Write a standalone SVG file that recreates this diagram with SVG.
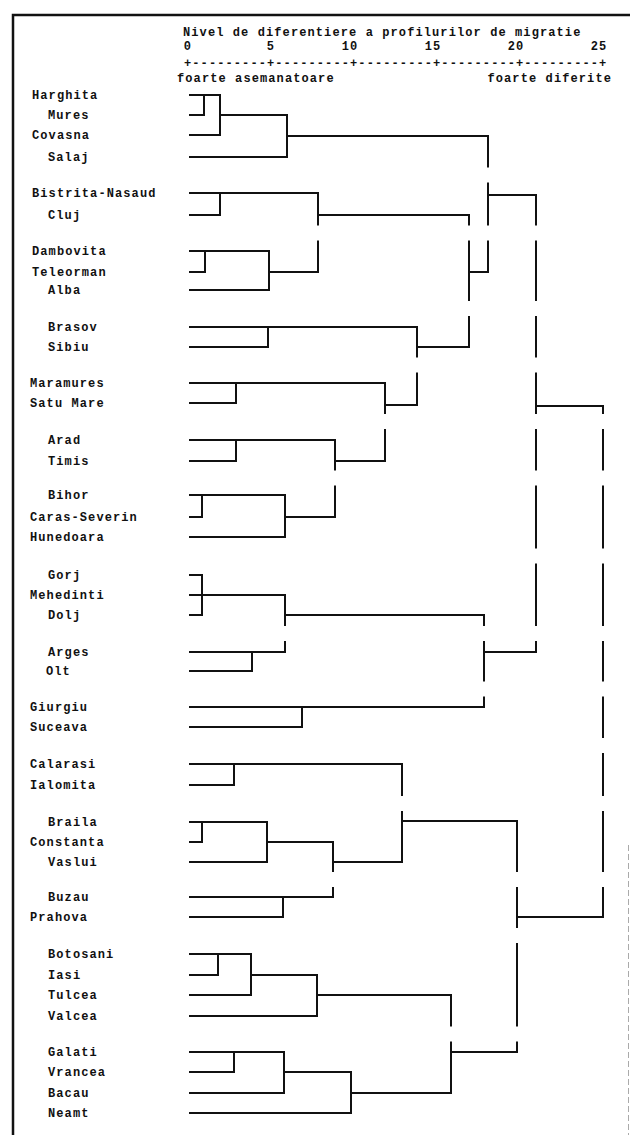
<svg xmlns="http://www.w3.org/2000/svg" width="630" height="1135" viewBox="0 0 630 1135">
<style>
text{font-family:"Liberation Mono","DejaVu Sans Mono",monospace;font-size:12px;font-weight:bold;letter-spacing:1.1px;fill:#111}
.c path{fill:none;stroke:#111;stroke-width:2;stroke-linecap:square}
.frame{fill:none;stroke:#111;stroke-width:2.5}
</style>
<defs>
<mask id="gaps" maskUnits="userSpaceOnUse" x="0" y="0" width="630" height="1135">
<rect x="0" y="0" width="630" height="1135" fill="#fff"/>
<g fill="#000">
<rect x="0" y="167.5" width="630" height="15"/>
<rect x="0" y="225.5" width="630" height="15"/>
<rect x="0" y="301" width="630" height="15"/>
<rect x="0" y="357.5" width="630" height="15"/>
<rect x="0" y="414" width="630" height="15"/>
<rect x="0" y="470.5" width="630" height="15"/>
<rect x="0" y="548.5" width="630" height="15"/>
<rect x="0" y="626" width="630" height="15"/>
<rect x="0" y="681.5" width="630" height="15"/>
<rect x="0" y="738" width="630" height="15"/>
<rect x="0" y="796" width="630" height="15"/>
<rect x="0" y="872" width="630" height="15"/>
<rect x="0" y="928" width="630" height="15"/>
<rect x="0" y="1026.5" width="630" height="15"/>
</g>
</mask>
</defs>
<rect width="630" height="1135" fill="#fff"/>
<g id="frame">
<path class="frame" d="M13,1135 V15 H630"/>
<path d="M628.5,845 V1135" stroke="#aaa" stroke-width="1" stroke-dasharray="6,3" fill="none"/>
</g>
<g id="axis">
<text x="183" y="36">Nivel de diferentiere a profilurilor de migratie</text>
<text x="188" y="50" text-anchor="middle">0</text>
<text x="271" y="50" text-anchor="middle">5</text>
<text x="350" y="50" text-anchor="middle">10</text>
<text x="433" y="50" text-anchor="middle">15</text>
<text x="516" y="50" text-anchor="middle">20</text>
<text x="599" y="50" text-anchor="middle">25</text>
<text x="184" y="67">+---------+---------+---------+---------+---------+</text>
<text x="177" y="82">foarte asemanatoare</text>
<text x="612" y="82" text-anchor="end">foarte diferite</text>
</g>
<g id="leaves">
<g id="n-harghita"><text x="32" y="99">Harghita</text></g>
<g id="n-mures"><text x="48" y="119">Mures</text></g>
<g id="n-covasna"><text x="32" y="139">Covasna</text></g>
<g id="n-salaj"><text x="48" y="161">Salaj</text></g>
<g id="n-bistrita"><text x="32" y="197">Bistrita-Nasaud</text></g>
<g id="n-cluj"><text x="48" y="219">Cluj</text></g>
<g id="n-dambovita"><text x="32" y="255">Dambovita</text></g>
<g id="n-teleorman"><text x="32" y="276">Teleorman</text></g>
<g id="n-alba"><text x="48" y="294">Alba</text></g>
<g id="n-brasov"><text x="48" y="331">Brasov</text></g>
<g id="n-sibiu"><text x="48" y="351">Sibiu</text></g>
<g id="n-maramures"><text x="30" y="387">Maramures</text></g>
<g id="n-satumare"><text x="30" y="407">Satu Mare</text></g>
<g id="n-arad"><text x="48" y="444">Arad</text></g>
<g id="n-timis"><text x="48" y="465">Timis</text></g>
<g id="n-bihor"><text x="48" y="499">Bihor</text></g>
<g id="n-caras"><text x="30" y="521">Caras-Severin</text></g>
<g id="n-hunedoara"><text x="30" y="541">Hunedoara</text></g>
<g id="n-gorj"><text x="48" y="579">Gorj</text></g>
<g id="n-mehedinti"><text x="30" y="599">Mehedinti</text></g>
<g id="n-dolj"><text x="48" y="619">Dolj</text></g>
<g id="n-arges"><text x="48" y="656">Arges</text></g>
<g id="n-olt"><text x="46" y="675">Olt</text></g>
<g id="n-giurgiu"><text x="30" y="711">Giurgiu</text></g>
<g id="n-suceava"><text x="30" y="731">Suceava</text></g>
<g id="n-calarasi"><text x="30" y="768">Calarasi</text></g>
<g id="n-ialomita"><text x="30" y="789">Ialomita</text></g>
<g id="n-braila"><text x="48" y="826">Braila</text></g>
<g id="n-constanta"><text x="30" y="846">Constanta</text></g>
<g id="n-vaslui"><text x="48" y="866">Vaslui</text></g>
<g id="n-buzau"><text x="48" y="901">Buzau</text></g>
<g id="n-prahova"><text x="30" y="921">Prahova</text></g>
<g id="n-botosani"><text x="48" y="958">Botosani</text></g>
<g id="n-iasi"><text x="48" y="979">Iasi</text></g>
<g id="n-tulcea"><text x="48" y="999">Tulcea</text></g>
<g id="n-valcea"><text x="48" y="1020">Valcea</text></g>
<g id="n-galati"><text x="48" y="1056">Galati</text></g>
<g id="n-vrancea"><text x="48" y="1076">Vrancea</text></g>
<g id="n-bacau"><text x="48" y="1097">Bacau</text></g>
<g id="n-neamt"><text x="48" y="1117">Neamt</text></g>
</g>
<g id="connectors" class="c" mask="url(#gaps)">
<path d="M190,95H220M190,115H204M204,95V115M190,135H220M220,95V135M220,115H287M190,157H287M287,115V157M287,136H488M488,136V272"/>
<path d="M190,193H318M190,215H220M220,193V215M318,193V272M318,215H469"/>
<path d="M190,251H269M190,272H205M205,251V272M190,290H269M269,251V290M269,272H318"/>
<path d="M469,215V347M469,272H488M488,195H536"/>
<path d="M190,327H417M190,347H268M268,327V347M417,327V405M417,347H469"/>
<path d="M190,383H385M190,403H236M236,383V403M385,383V461M385,405H417"/>
<path d="M190,440H335M190,461H236M236,440V461M335,440V517M335,461H385"/>
<path d="M190,495H285M190,517H202M202,495V517M190,537H285M285,495V537M285,517H335"/>
<path d="M536,195V652M536,406H603M603,406V917"/>
<path d="M190,575H202M190,595H285M190,615H202M202,575V615M285,595V652M285,615H484"/>
<path d="M190,652H285M190,671H252M252,652V671"/>
<path d="M190,707H484M190,727H302M302,707V727M484,615V707M484,652H536"/>
<path d="M190,764H402M190,785H234M234,764V785"/>
<path d="M190,822H267M190,842H202M202,822V842M190,862H267M267,822V862M267,842H333"/>
<path d="M190,897H333M190,917H283M283,897V917M333,842V897M333,862H402M402,764V862M402,821H517M517,821V1052M517,917H603"/>
<path d="M190,954H251M190,975H218M218,954V975M190,995H251M251,954V995M251,975H317M190,1016H317M317,975V1016M317,995H451"/>
<path d="M190,1052H284M190,1072H234M234,1052V1072M190,1093H284M284,1052V1093M284,1072H351M190,1113H351M351,1072V1113M351,1093H451M451,995V1093M451,1052H517"/>
</g>
</svg>
